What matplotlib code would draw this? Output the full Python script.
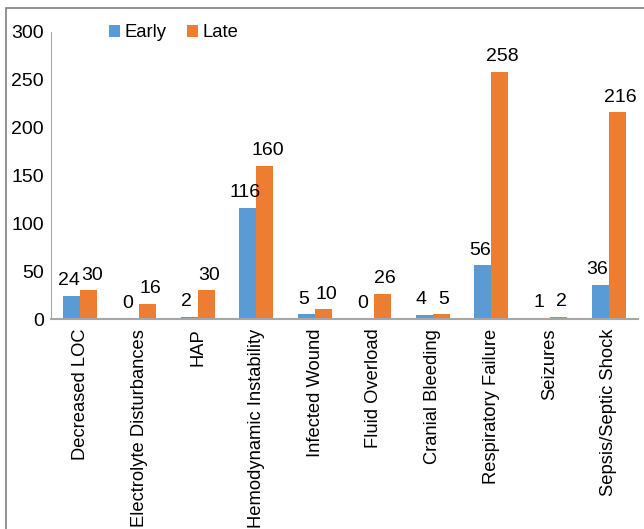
import numpy as np
import matplotlib
matplotlib.use("Agg")
import matplotlib.pyplot as plt
from matplotlib.patches import Rectangle

plt.rcParams['font.family'] = ['Liberation Sans', 'DejaVu Sans']

categories = ["Decreased LOC", "Electrolyte Disturbances", "HAP", "Hemodynamic Instability",
              "Infected Wound", "Fluid Overload", "Cranial Bleeding", "Respiratory Failure",
              "Seizures", "Sepsis/Septic Shock"]
early = [24, 0, 2, 116, 5, 0, 4, 56, 1, 36]
late = [30, 16, 30, 160, 10, 26, 5, 258, 2, 216]
yticks = [0, 50, 100, 150, 200, 250, 300]

blue = "#5B9BD5"
orange = "#ED7D31"

fig = plt.figure(figsize=(6.44, 5.29), dpi=100)
ax = fig.add_axes([51/644, 1 - 319/529, (638 - 51)/644, (319 - 32)/529])

x = np.arange(len(categories))
w = 0.29
b1 = ax.bar(x - w/2, early, w, color=blue, label="Early")
b2 = ax.bar(x + w/2, late, w, color=orange, label="Late")

for rect, v in zip(b1, early):
    ax.text(rect.get_x() + rect.get_width()/2 - 0.05, v + 7, str(v), ha="center", va="bottom", fontsize=14)
for rect, v in zip(b2, late):
    ax.text(rect.get_x() + rect.get_width()/2 + 0.05, v + 7, str(v), ha="center", va="bottom", fontsize=14)

ax.set_xlim(-0.5, len(categories) - 0.5)
ax.set_ylim(0, 300)
ax.set_yticks(yticks)
ax.set_xticks(x)
ax.set_xticklabels(categories, rotation=90)
ax.tick_params(axis="both", length=0)
ax.tick_params(axis="x", pad=7, labelsize=13.2)
ax.tick_params(axis="y", pad=5, labelsize=14)

for s in ["top", "right"]:
    ax.spines[s].set_visible(False)
ax.spines["left"].set_color("#a6a6a6")
ax.spines["bottom"].set_color("#a6a6a6")
ax.spines["bottom"].set_linewidth(1.5)

ax.legend(loc="upper left", bbox_to_anchor=(0.07, 1.085), ncol=2, frameon=False,
          fontsize=13.3, handlelength=0.6, handleheight=0.6, handletextpad=0.25, columnspacing=1.1)

# outer frame (only top/left visible in the crop)
fig.patches.append(Rectangle((6/644, -0.1), 1.2, 1 - 8/529 + 0.1, transform=fig.transFigure,
                             fill=False, edgecolor="#7f7f7f", linewidth=1.2))

fig.savefig("out.png", dpi=100)
